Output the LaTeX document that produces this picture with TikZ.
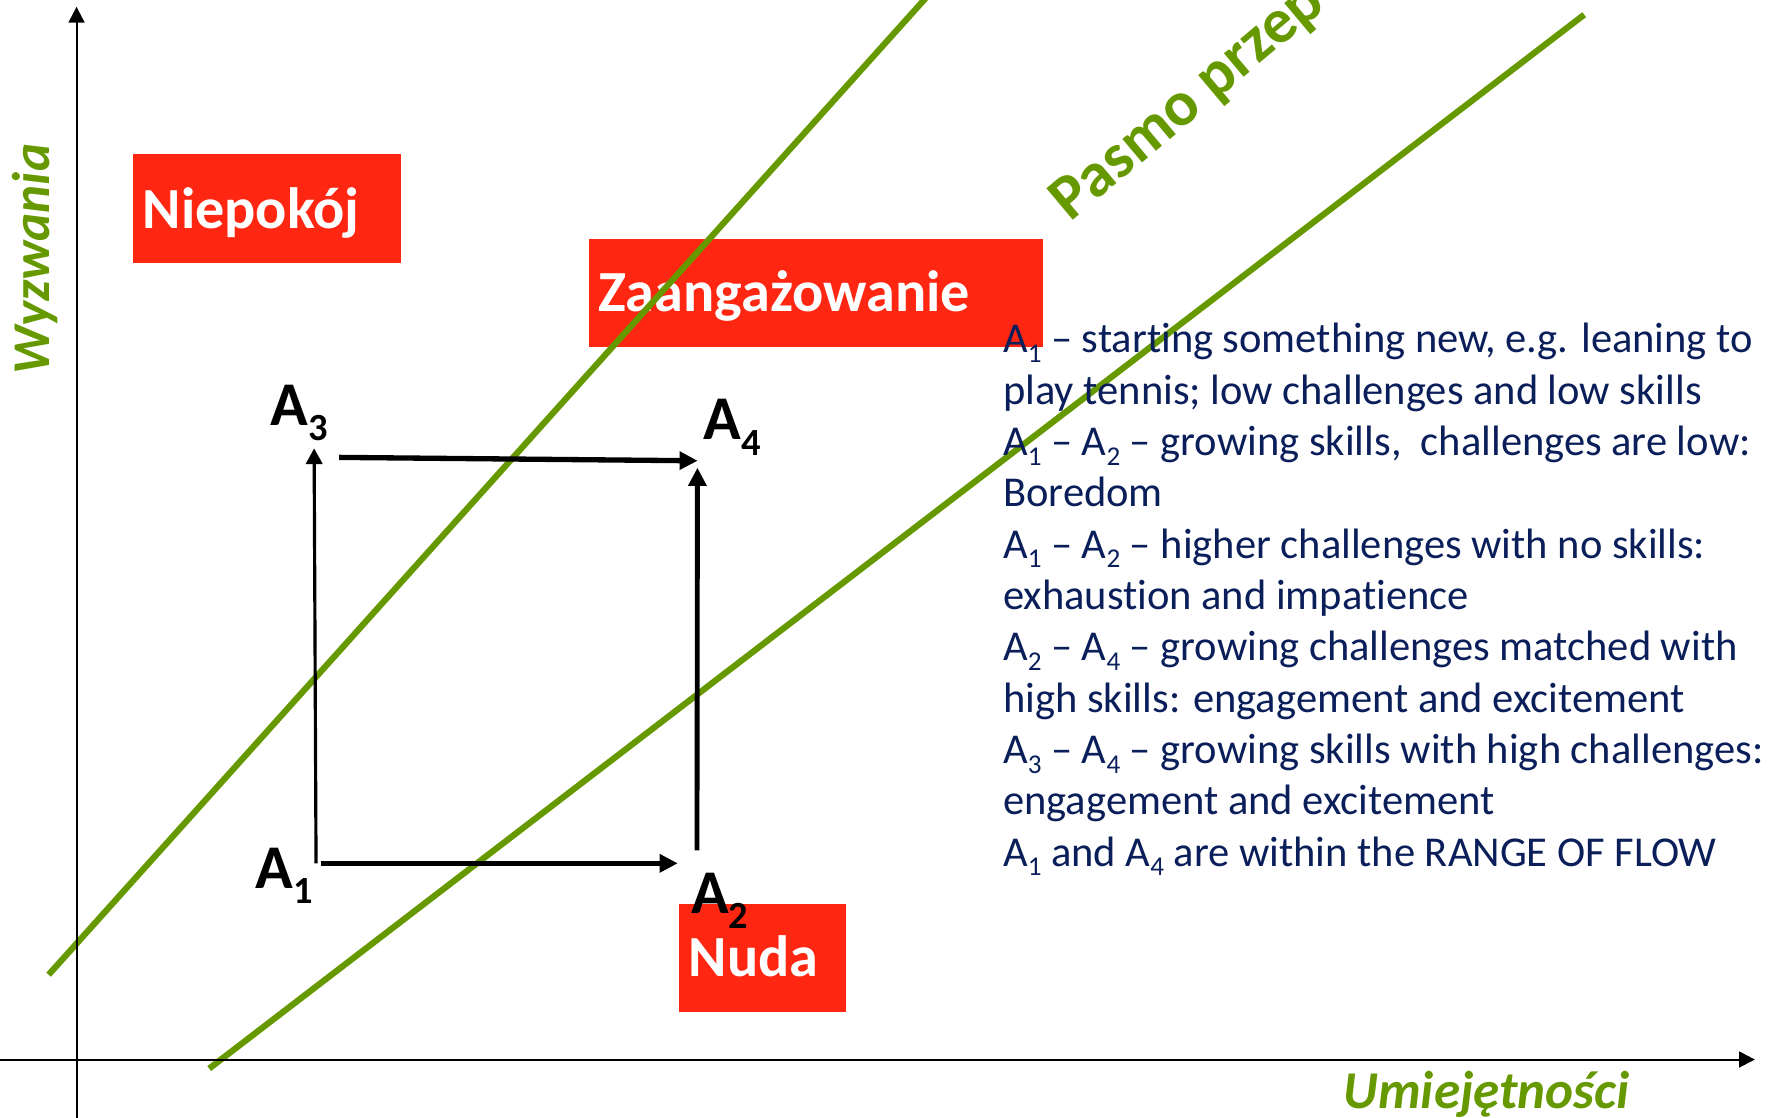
\documentclass[tikz,border=0pt]{standalone}
\usepackage{fontspec}
\setmainfont{Carlito}
\usetikzlibrary{arrows.meta}
\definecolor{flowgreen}{RGB}{102,153,0}
\definecolor{boxred}{RGB}{255,38,18}
\definecolor{navy}{RGB}{10,30,90}
\newcommand\Sub[1]{\raisebox{-0.23em}{\fontsize{24}{24}\selectfont #1}}
\newcommand\BigSub[1]{\raisebox{-13.5pt}{\fontsize{34}{34}\selectfont #1}}
\newcommand\nolig{\kern0pt}
\begin{document}
\begin{tikzpicture}[x=1pt,y=-1pt,
  redbox/.style={fill=boxred, draw=none, inner sep=0, anchor=north west},
  boxtext/.style={text=white, font=\fontsize{51.5}{51.5}\selectfont\bfseries, inner sep=0, anchor=base west},
  flowline/.style={draw=flowgreen, line width=5.5pt},
  arr/.style={-{Triangle[length=16pt,width=15.5pt]}, line width=4.7pt},
  thinarr/.style={-{Triangle[length=14pt,width=14.5pt]}, line width=2.8pt},
  axis/.style={-{Triangle[length=14pt,width=14pt]}, line width=1.8pt},
  alabel/.style={font=\fontsize{55}{55}\selectfont\bfseries, inner sep=0, anchor=base west},
  desc/.style={text=navy, font=\fontsize{37.6}{45}\selectfont, inner sep=0, anchor=base west},
  axlabel/.style={text=flowgreen, font=\fontsize{47}{47}\selectfont\bfseries\itshape, inner sep=0, anchor=base west}
]
\useasboundingbox (0,0) rectangle (1568,988);
\clip (0,0) rectangle (1568,988);

% red boxes
\node[redbox, minimum width=236.9pt, minimum height=96.1pt] (nbox) at (117.8,136.2) {};
\node[redbox, minimum width=401pt, minimum height=95.8pt] (zbox) at (521,210.8) {};
\node[redbox, minimum width=147.5pt, minimum height=95.7pt] (dbox) at (600.5,799) {};
\node[boxtext] (ntext) at (126,202) {Niepokój};
\node[boxtext] (ztext) at (529,275.7) {Zaangażowanie};
\node[boxtext] (dtext) at (609,864) {Nuda};

% flow band lines
\coordinate (g1a) at (43,862);
\coordinate (g1b) at (827,-11);
\coordinate (g2a) at (185,945);
\coordinate (g2b) at (1401,13);
\draw[flowline] (g1a) -- (g1b);
\draw[flowline] (g2a) -- (g2b);
\node[text=flowgreen, font=\fontsize{56}{56}\selectfont\bfseries, inner sep=0, anchor=base west, rotate=40] (band) at (947,197) {Pasmo przep};

% axes
\coordinate (yb) at (67.7,992);
\coordinate (yt) at (67.7,6);
\coordinate (xl) at (-4,937);
\coordinate (xr) at (1552,937);
\draw[axis] (yb) -- (yt);
\draw[axis] (xl) -- (xr);
\node[axlabel, rotate=90] (ylab) at (44,331) {Wyzwania};
\node[axlabel] (xlab) at (1188,980) {Umiejętności};

% arrows
\coordinate (p1) at (279.5,763.5);
\coordinate (p13) at (277.8,396.5);
\coordinate (p1r) at (283.5,763.5);
\coordinate (p2l) at (599.4,763.5);
\coordinate (p3r) at (300,404.5);
\coordinate (p4l) at (617,407.5);
\coordinate (p2u) at (616.4,752);
\coordinate (p4d) at (616.8,413.6);
\draw[thinarr] (p1) -- (p13);
\draw[arr] (p1r) -- (p2l);
\draw[arr] (p3r) -- (p4l);
\draw[arr, line width=4.3pt] (p2u) -- (p4d);

% point labels
\node[alabel] (A3) at (239,376) {A\BigSub{3}};
\node[alabel] (A4) at (622,389) {A\BigSub{4}};
\node[alabel] (A1) at (226,785.6) {A\BigSub{1}};
\node[alabel] (A2) at (611,808) {A\BigSub{2}};

% description
\foreach \t [count=\i] in {%
  {A\Sub{1} – start\nolig ing something new, e.g. leaning to},
  {play tennis; low challenges and low skills},
  {A\Sub{1} – A\Sub{2} – growing skills,\ \ challenges are low:},
  {Boredom},
  {A\Sub{1} – A\Sub{2} – higher challenges with no skills:},
  {exhaust\nolig ion and impat\nolig ience},
  {A\Sub{2} – A\Sub{4} – growing challenges matched with},
  {high skills: engagement and excitement},
  {A\Sub{3} – A\Sub{4} – growing skills with high challenges:},
  {engagement and excitement},
  {A\Sub{1} and A\Sub{4} are within the RANGE OF FLOW}}
  \node[desc] (d\i) at (887,{312+45.4*(\i-1)}) {\t};
\end{tikzpicture}
\end{document}
